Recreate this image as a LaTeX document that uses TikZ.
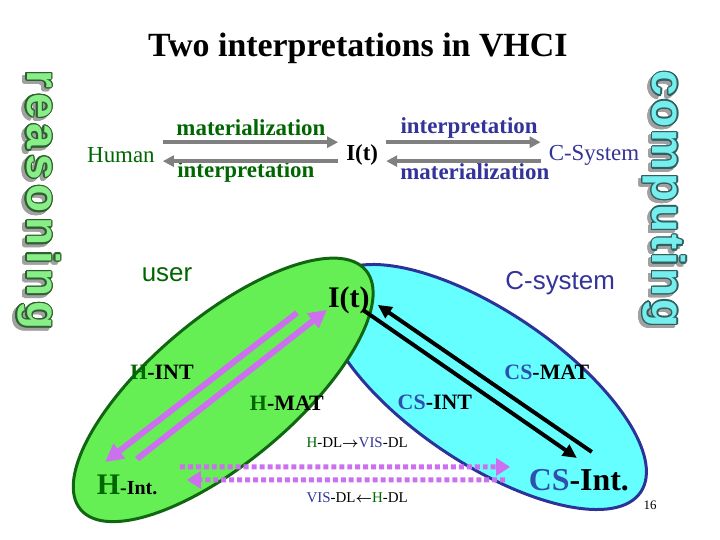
\documentclass[tikz,border=0pt]{standalone}
\usepackage{fontspec}
\setmainfont{Liberation Serif}
\setsansfont{Liberation Sans}
\usepackage{xcolor}
\usepackage{contour}
\usepackage{tikz}
\usetikzlibrary{arrows.meta}
\definecolor{humangreen}{HTML}{006600}
\definecolor{sysblue}{HTML}{333399}
\definecolor{csblue}{HTML}{2F4FB0}
\definecolor{arrowgray}{HTML}{808080}
\definecolor{softviolet}{HTML}{CC70F0}
\definecolor{userfill}{HTML}{66EE55}
\definecolor{userline}{HTML}{116611}
\definecolor{sysfill}{HTML}{66FFFF}
\definecolor{sysline}{HTML}{2B3399}
\definecolor{reasonfill}{HTML}{88EE88}
\definecolor{reasonline}{HTML}{2F5F2F}
\definecolor{compfill}{HTML}{77EEEE}
\definecolor{compline}{HTML}{2F6060}
\definecolor{shadowgray}{HTML}{A0A0A0}
\contourlength{1.3pt}
\tikzset{
  titletext/.style={font=\bfseries\fontsize{34}{38}\selectfont},
  flowlabel/.style={font=\bfseries\fontsize{23}{26}\selectfont, inner sep=2pt},
  endlabel/.style={font=\fontsize{23}{26}\selectfont, inner sep=8pt},
  zonelabel/.style={font=\sffamily\fontsize{26}{30}\selectfont},
  linklabel/.style={font=\bfseries\fontsize{22}{26}\selectfont},
  dllabel/.style={font=\fontsize{15}{18}\selectfont},
  vertword/.style={font=\sffamily\bfseries\fontsize{46}{50}\selectfont\addfontfeature{LetterSpace=#1},
    rotate=-90, inner sep=0pt},
  grayarrow/.style={-{Triangle[length=11pt,width=11pt]}, line width=3.5pt, draw=arrowgray},
  violetarrow/.style={-{Triangle[length=18pt,width=18pt]}, line width=6pt, draw=softviolet},
  blackarrow/.style={-{Triangle[length=14pt,width=13pt]}, line width=4pt, draw=black},
  dottedarrow/.style={-{Triangle[length=14pt,width=17pt]}, line width=5pt, draw=softviolet,
    dash pattern=on 5pt off 3pt},
  userzone/.style={draw=userline, fill=userfill, line width=3pt},
  syszone/.style={draw=sysline, fill=sysfill, line width=3pt}
}
\begin{document}
\begin{tikzpicture}[x=0.5in,y=0.5in]
  \useasboundingbox[fill=white] (0,0) rectangle (20,15);

  % Title
  \node[titletext] (title) at (9.94,13.67) {Two interpretations in VHCI};

  % Side words
  \node[vertword=11, text=shadowgray] (reasonshadow) at ([shift={(-3pt,-3pt)}]1.06,9.44) {\contour{shadowgray}{reasoning}};
  \node[vertword=11, text=reasonfill] (reasoning) at (1.06,9.44) {\contour{reasonline}{reasoning}};
  \node[vertword=6, text=shadowgray] (compshadow) at ([shift={(-3pt,-3pt)}]18.44,9.47) {\contour{shadowgray}{computing}};
  \node[vertword=6, text=compfill] (computing) at (18.44,9.47) {\contour{compline}{computing}};

  % Top row
  \node[endlabel, text=humangreen] (human) at (3.36,10.69) {Human};
  \node[endlabel, font=\bfseries\fontsize{23}{26}\selectfont] (itop) at (10.06,10.69) {I(t)};
  \node[endlabel, text=sysblue] (csys) at (16.5,10.69) {C-System};
  \node[flowlabel, text=humangreen] (matleft) at (6.97,11.44) {materialization};
  \node[flowlabel, text=humangreen] (intleft) at (6.83,10.22) {interpretation};
  \node[flowlabel, text=sysblue] (intright) at (13.03,11.44) {interpretation};
  \node[flowlabel, text=sysblue] (matright) at (13.19,10.22) {materialization};

  \draw[grayarrow] ([yshift=13pt]human.east) -- ([yshift=13pt]itop.west);
  \draw[grayarrow] ([yshift=-6pt]itop.west) -- ([yshift=-6pt]human.east);
  \draw[grayarrow] ([yshift=13pt]itop.east) -- ([yshift=13pt]csys.west);
  \draw[grayarrow] ([yshift=-6pt]csys.west) -- ([yshift=-6pt]itop.east);

  % Zones
  \draw[syszone] (13.47,4.25) ellipse [x radius=5.22, y radius=2.11, rotate=-34];
  \draw[userzone] (6.2,4.17) ellipse [x radius=5.17, y radius=2.0, rotate=40];

  % Zone labels
  \node[zonelabel, text=humangreen] (user) at (4.64,7.36) {user};
  \node[zonelabel, text=sysblue] (csyslabel) at (15.56,7.14) {C-system};
  \node[font=\bfseries\fontsize{30}{34}\selectfont] (ibot) at (9.69,6.67) {I(t)};
  \node[linklabel] (hint) at (4.5,4.67) {\textcolor{humangreen}{H}-INT};
  \node[linklabel] (hmat) at (7.97,3.81) {\textcolor{humangreen}{H}-MAT};
  \node[linklabel] (csmat) at (15.19,4.67) {\textcolor{csblue}{CS}-MAT};
  \node[linklabel] (csint) at (12.08,3.81) {\textcolor{csblue}{CS}-INT};
  \node[font=\bfseries\fontsize{20}{24}\selectfont] (hbig) at (3.53,1.53) {{\fontsize{30}{34}\selectfont\textcolor{humangreen}{H}}-Int.};
  \node[font=\bfseries\fontsize{32}{36}\selectfont] (csbig) at (16.08,1.67) {\textcolor{csblue}{CS}-Int.};
  \node[dllabel] (dlforward) at (9.92,2.69) {\textcolor{humangreen}{H}-DL{\boldmath$\rightarrow$}\textcolor{sysblue}{VIS}-DL};
  \node[dllabel] (dlback) at (9.92,1.17) {\textcolor{sysblue}{VIS}-DL{\boldmath$\leftarrow$}\textcolor{humangreen}{H}-DL};
  \node[font=\fontsize{13}{15}\selectfont] (pagenum) at (18.06,0.97) {16};

  % arrows
  \draw[violetarrow] ([shift={(-52pt,-13pt)}]ibot.center) -- ([shift={(-22pt,23pt)}]hbig.center);
  \draw[violetarrow] ([shift={(10pt,26pt)}]hbig.center) -- ([shift={(-22pt,-10pt)}]ibot.center);
  \draw[blackarrow] ([shift={(14pt,-10pt)}]ibot.center) -- ([shift={(-2pt,22pt)}]csbig.center);
  \draw[blackarrow] ([shift={(13pt,28pt)}]csbig.center) -- ([shift={(29pt,-5pt)}]ibot.center);
  \draw[dottedarrow] ([shift={(53pt,18pt)}]hbig.center) -- ([shift={(-69pt,13pt)}]csbig.center);
  \draw[dottedarrow] ([shift={(-74pt,0pt)}]csbig.center) -- ([shift={(60pt,5pt)}]hbig.center);
\end{tikzpicture}
\end{document}
